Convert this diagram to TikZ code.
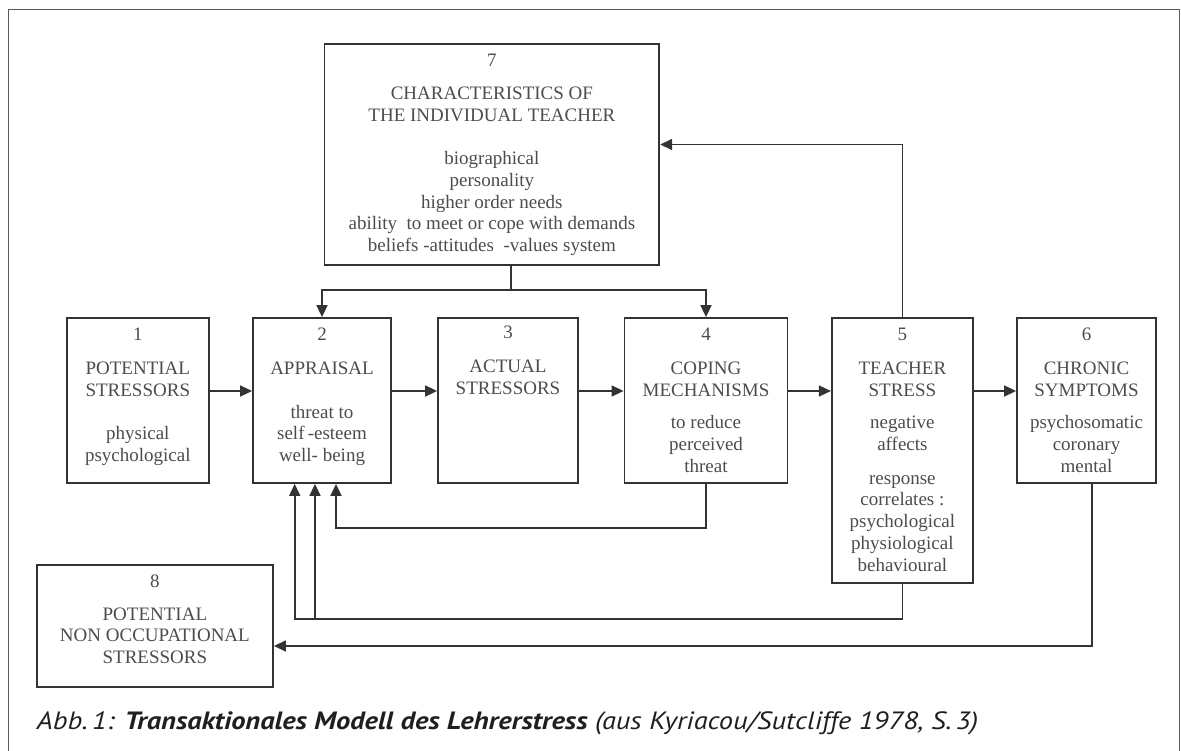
\documentclass[tikz,border=0pt]{standalone}
\usepackage{fontspec}
\setmainfont{Liberation Serif}
\newfontfamily\capfont[FakeStretch=1.14]{PT Sans}
\usepackage{tikz}
\usetikzlibrary{arrows.meta,positioning}

\begin{document}
\begin{tikzpicture}[
    x=1pt, y=-1pt,
    box/.style={draw=black!80, line width=1.8pt, inner sep=0pt},
    boxtext/.style={anchor=north, inner sep=0pt, align=center, text=black!70, font=\fontsize{19}{21.7}\selectfont},
    arrow/.style={-{Triangle[length=12pt,width=11pt]}, line width=1.6pt, draw=black!80},
    link/.style={line width=1.6pt, draw=black!80}
]
\useasboundingbox (0,0) rectangle (1181,751);
\draw[black!65, line width=1.4pt] (8.5,770) -- (8.5,9.5) -- (1179.5,9.5) -- (1179.5,770);

\node[box, minimum width=334.8, minimum height=221] (b7) at (491.9,154.5) {};
\node[box, minimum width=141.6, minimum height=165] (b1) at (137.8,400.5) {};
\node[box, minimum width=138, minimum height=165] (b2) at (322,400.5) {};
\node[box, minimum width=140, minimum height=165] (b3) at (508,400.5) {};
\node[box, minimum width=163, minimum height=165] (b4) at (706,400.5) {};
\node[box, minimum width=141.2, minimum height=264.7] (b5) at (902.4,450.35) {};
\node[box, minimum width=139, minimum height=165] (b6) at (1086.5,400.5) {};
\node[box, minimum width=236.3, minimum height=121.7] (b8) at (154.9,625.85) {};

\node[boxtext] (t7) at ([yshift=-11pt]b7.north) {7\\[11pt]CHARACTERISTICS OF\\THE INDIVIDUAL TEACHER\\[22pt]biographical\\personality\\higher order needs\\ability~~to meet or cope with demands\\beliefs -attitudes~~-values system};
\node[boxtext] (t1) at ([yshift=-11pt]b1.north) {1\\[12pt]POTENTIAL\\STRESSORS\\[22pt]physical\\psychological};
\node[boxtext] (t2) at ([yshift=-11pt]b2.north) {2\\[12pt]APPRAISAL\\[22pt]threat~to\\self\,-esteem\\well- being};
\node[boxtext] (t3) at ([yshift=-9pt]b3.north) {3\\[12pt]ACTUAL\\STRESSORS};
\node[boxtext] (t4) at ([yshift=-11pt]b4.north) {4\\[12pt]COPING\\MECHANISMS\\[11pt]to reduce\\perceived\\threat};
\node[boxtext] (t5) at ([yshift=-11pt]b5.north) {5\\[12pt]TEACHER\\STRESS\\[11pt]negative\\affects\\[12pt]response\\correlates :\\psychological\\physiological\\behavioural};
\node[boxtext] (t6) at ([yshift=-11pt]b6.north) {6\\[12pt]CHRONIC\\SYMPTOMS\\[11pt]psychosomatic\\coronary\\mental};
\node[boxtext] (t8) at ([yshift=-10.5pt]b8.north) {8\\[11pt]POTENTIAL\\NON OCCUPATIONAL\\STRESSORS};

\coordinate (j7) at (511,290);
\coordinate (lvl) at (0,391);
\coordinate (f4) at (336,528);
\coordinate (f5a) at (294.7,619);
\coordinate (f5b) at (315,619);
\coordinate (f6) at (1091.7,646);

\draw[link] (b7.south -| j7) -- (j7);
\draw[arrow] (j7) -| (b2.north);
\draw[arrow] (j7) -| (b4.north);
\draw[arrow] (b5.north) |- ([yshift=10pt]b7.east);
\foreach \a/\b in {b1/b2, b2/b3, b3/b4, b4/b5, b5/b6}
    \draw[arrow] (\a.east |- lvl) -- (\b.west |- lvl);
\draw[arrow] (b4.south) |- (f4) -- (b2.south -| f4);
\draw[arrow] (b5.south) |- (f5a) -- (b2.south -| f5a);
\draw[arrow] (f5b) -- (b2.south -| f5b);
\draw[arrow] (b6.south -| f6) -- (f6) -- (b8.east |- f6);

\node[anchor=base west, inner sep=0pt, text=black!88, font=\capfont\fontsize{25}{30}\selectfont] (cap) at (36.7,729.5) {\itshape Abb.\,1: \textbf{Transaktionales Modell des Lehrerstress} (aus Kyriacou/Sutcliffe 1978, S.\,3)};
\end{tikzpicture}
\end{document}
